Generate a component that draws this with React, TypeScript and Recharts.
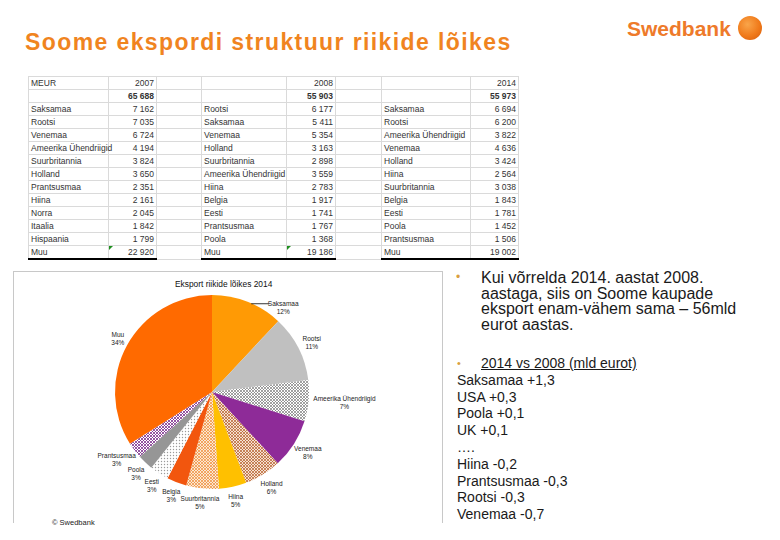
import React from 'react';
import { PieChart, Pie, Cell } from 'recharts';

const FONT = 'Arial, "Liberation Sans", sans-serif';

// table: exports by country, MEUR
const labels2007 = ['Saksamaa', 'Rootsi', 'Venemaa', 'Ameerika Ühendriigid', 'Suurbritannia', 'Holland', 'Prantsusmaa', 'Hiina', 'Norra', 'Itaalia', 'Hispaania', 'Muu'];
const values2007 = [7162, 7035, 6724, 4194, 3824, 3650, 2351, 2161, 2045, 1842, 1799, 22920];
const total2007 = 65688;

const labels2008 = ['Rootsi', 'Saksamaa', 'Venemaa', 'Holland', 'Suurbritannia', 'Ameerika Ühendriigid', 'Hiina', 'Belgia', 'Eesti', 'Prantsusmaa', 'Poola', 'Muu'];
const values2008 = [6177, 5411, 5354, 3163, 2898, 3559, 2783, 1917, 1741, 1767, 1368, 19186];
const total2008 = 55903;

const labels2014 = ['Saksamaa', 'Rootsi', 'Ameerika Ühendriigid', 'Venemaa', 'Holland', 'Hiina', 'Suurbritannia', 'Belgia', 'Eesti', 'Poola', 'Prantsusmaa', 'Muu'];
const values2014 = [6694, 6200, 3822, 4636, 3424, 2564, 3038, 1843, 1781, 1452, 1506, 19002];
const total2014 = 55973;

const years = ['2007', '2008', '2014'];

const bullet1 = 'Kui võrrelda 2014. aastat 2008. aastaga, siis on Soome kaupade eksport enam-vähem sama – 56mld eurot aastas.';
const bullet2 = '2014 vs 2008 (mld eurot)';
const changes = ['Saksamaa +1,3', 'USA +0,3', 'Poola +0,1', 'UK +0,1', '….', 'Hiina -0,2', 'Prantsusmaa -0,3', 'Rootsi -0,3', 'Venemaa -0,7'];

const sliceFills = [
  '#FF9A05',
  '#C0C0C0',
  'url(#patUsa)',
  '#8E2B98',
  'url(#patHolland)',
  '#FFC000',
  'url(#patUk)',
  '#F2560E',
  'url(#patEesti)',
  '#969696',
  'url(#patFrance)',
  '#FF6A00',
];

const pieData = labels2014.map((name, i) => ({ name, value: values2014[i] }));

const fmt = (n: number) => String(n).replace(/\B(?=(\d{3})+(?!\d))/g, ' ');

const renderLabel = (props: any) => {
  const { cx, cy, midAngle, outerRadius, percent, name } = props;
  const rad = (-midAngle * Math.PI) / 180;
  const cos = Math.cos(rad);
  const sin = Math.sin(rad);
  const r = outerRadius + 6;
  const w = name.length * 3.0;
  const h = 16;
  let lx = cx + r * cos + (cos * w) / 2;
  let ly = cy + r * sin + (sin * h) / 2;
  const isFirst = name === labels2014[0];
  if (isFirst) {
    // excel pushed this one aside and drew a leader line
    lx += 29;
    ly += 18;
  }
  return (
    <g>
      {isFirst && (
        <line x1={lx - w / 2 - 20} y1={ly - 3} x2={lx - w / 2 - 2} y2={ly - 3} stroke="#000" strokeWidth={0.8} />
      )}
      <text x={lx} y={ly - 1} textAnchor="middle" fontSize={6.5} fill="#222" fontFamily={FONT}>
        {name}
      </text>
      <text x={lx} y={ly + 7} textAnchor="middle" fontSize={6.5} fill="#222" fontFamily={FONT}>
        {Math.round(percent * 100)}%
      </text>
    </g>
  );
};

const colWidths = [80, 48, 45, 85, 49, 46, 89, 48];

function ExportTable() {
  const rows: { cells: string[]; bold?: boolean; last?: boolean }[] = [];
  rows.push({ cells: ['MEUR', years[0], '', '', years[1], '', '', years[2]] });
  rows.push({ cells: ['', fmt(total2007), '', '', fmt(total2008), '', '', fmt(total2014)], bold: true });
  labels2007.forEach((_, i) => {
    rows.push({
      cells: [labels2007[i], fmt(values2007[i]), '', labels2008[i], fmt(values2008[i]), '', labels2014[i], fmt(values2014[i])],
      last: i === labels2007.length - 1,
    });
  });
  return (
    <table
      style={{
        position: 'absolute',
        left: 28,
        top: 76,
        borderCollapse: 'collapse',
        tableLayout: 'fixed',
        width: colWidths.reduce((a, b) => a + b, 0),
        fontFamily: FONT,
        fontSize: 8.5,
        color: '#333',
      }}
    >
      <colgroup>
        {colWidths.map((w, i) => (
          <col key={i} style={{ width: w }} />
        ))}
      </colgroup>
      <tbody>
        {rows.map((row, ri) => (
          <tr key={ri} style={{ height: 13 }}>
            {row.cells.map((c, ci) => {
              const isVal = ci === 1 || ci === 4 || ci === 7;
              const isGap = ci === 2 || ci === 5;
              return (
                <td
                  key={ci}
                  style={{
                    padding: '0 2px',
                    height: 12,
                    lineHeight: '12px',
                    whiteSpace: 'nowrap',
                    overflow: 'visible',
                    textAlign: isVal ? 'right' : 'left',
                    fontWeight: row.bold ? 'bold' : 'normal',
                    border: '1px solid #DADADA',
                    borderBottom: row.last && !isGap ? '2px solid #000' : '1px solid #DADADA',
                    position: 'relative',
                  }}
                >
                  {row.last && (ci === 1 || ci === 4) && (
                    <span
                      style={{
                        position: 'absolute',
                        left: 0,
                        top: 0,
                        width: 0,
                        height: 0,
                        borderTop: '4px solid #1F8F1F',
                        borderRight: '4px solid transparent',
                      }}
                    />
                  )}
                  {c}
                </td>
              );
            })}
          </tr>
        ))}
      </tbody>
    </table>
  );
}

export default function App() {
  return (
    <div
      style={{
        position: 'absolute',
        left: 0,
        top: 0,
        width: 780,
        height: 540,
        background: '#fff',
        overflow: 'hidden',
        fontFamily: FONT,
      }}
    >
      {/* title */}
      <div
        style={{
          position: 'absolute',
          left: 25,
          top: 29,
          fontSize: 23,
          letterSpacing: 1.4,
          fontWeight: 'bold',
          color: '#F0841F',
          whiteSpace: 'nowrap',
        }}
      >
        Soome ekspordi struktuur riikide lõikes
      </div>

      {/* logo */}
      <div
        style={{
          position: 'absolute',
          left: 627,
          top: 17,
          fontSize: 21,
          fontWeight: 'bold',
          color: '#EE7A2A',
          whiteSpace: 'nowrap',
        }}
      >
        Swedbank
      </div>
      <div
        style={{
          position: 'absolute',
          left: 738,
          top: 16,
          width: 24,
          height: 24,
          borderRadius: '50%',
          background: 'radial-gradient(circle at 40% 35%, #F9A54A 0%, #F07A1A 55%, #D65A08 100%)',
        }}
      />

      <ExportTable />

      {/* pie chart box */}
      <div
        style={{
          position: 'absolute',
          left: 13,
          top: 271,
          width: 430,
          height: 252,
          borderLeft: '1px solid #C8C8C8',
          borderTop: '1px solid #C8C8C8',
          borderRight: '1px solid #C8C8C8',
          boxSizing: 'border-box',
        }}
      />
      <div
        style={{
          position: 'absolute',
          left: 175,
          top: 279,
          fontSize: 8.4,
          color: '#111',
          whiteSpace: 'nowrap',
        }}
      >
        Eksport riikide lõikes 2014
      </div>
      <div style={{ position: 'absolute', left: 13, top: 271 }}>
        <PieChart width={430} height={250} margin={{ top: 0, right: 0, bottom: 0, left: 0 }}>
          <defs>
            <pattern id="patUsa" width="3" height="3" patternUnits="userSpaceOnUse">
              <rect width="3" height="3" fill="#fff" />
              <path d="M0,0 L3,3 M3,0 L0,3" stroke="#7A7A7A" strokeWidth="0.7" />
            </pattern>
            <pattern id="patHolland" width="3" height="3" patternUnits="userSpaceOnUse">
              <rect width="3" height="3" fill="#F6E2D2" />
              <path d="M0,0 L3,3 M3,0 L0,3" stroke="#B35A26" strokeWidth="0.7" />
            </pattern>
            <pattern id="patUk" width="3" height="3" patternUnits="userSpaceOnUse">
              <rect width="3" height="3" fill="#FCE8D2" />
              <path d="M0,0 L3,3 M3,0 L0,3" stroke="#EE8A36" strokeWidth="0.7" />
            </pattern>
            <pattern id="patEesti" width="3" height="3" patternUnits="userSpaceOnUse">
              <rect width="3" height="3" fill="#fff" />
              <circle cx="1.5" cy="1.5" r="0.7" fill="#9A9A9A" />
            </pattern>
            <pattern id="patFrance" width="3" height="3" patternUnits="userSpaceOnUse">
              <rect width="3" height="3" fill="#fff" />
              <path d="M0,0 L3,3 M3,0 L0,3" stroke="#7B2C8C" strokeWidth="0.8" />
            </pattern>
          </defs>
          <Pie
            data={pieData}
            dataKey="value"
            nameKey="name"
            cx={199}
            cy={121}
            outerRadius={97}
            startAngle={90}
            endAngle={-270}
            stroke="none"
            label={renderLabel}
            labelLine={false}
            isAnimationActive={false}
          >
            {pieData.map((d, i) => (
              <Cell key={d.name} fill={sliceFills[i]} />
            ))}
          </Pie>
        </PieChart>
      </div>

      {/* right-hand text */}
      <div style={{ position: 'absolute', left: 456, top: 270, width: 300, fontSize: 16, lineHeight: '15.7px', color: '#1a1a1a' }}>
        <span style={{ position: 'absolute', left: 0, top: 0, color: '#D9A040', fontSize: 12 }}>•</span>
        <div style={{ marginLeft: 25, width: 285 }}>{bullet1}</div>
      </div>
      <div style={{ position: 'absolute', left: 457, top: 355, width: 300, fontSize: 14, lineHeight: '16.8px', color: '#1a1a1a' }}>
        <div style={{ position: 'relative' }}>
          <span style={{ position: 'absolute', left: 0, top: 0, color: '#D9A040', fontSize: 11 }}>•</span>
          <span style={{ marginLeft: 24, textDecoration: 'underline' }}>{bullet2}</span>
        </div>
        {changes.map((c) => (
          <div key={c}>{c}</div>
        ))}
      </div>

      <div style={{ position: 'absolute', left: 52, top: 518, fontSize: 7.5, color: '#222' }}>© Swedbank</div>
    </div>
  );
}
